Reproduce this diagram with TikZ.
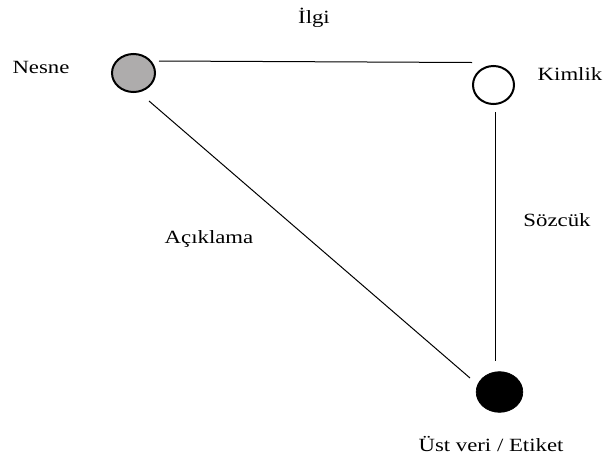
\documentclass[tikz,border=0pt]{standalone}
\usepackage{fontspec}
\setmainfont[FakeStretch=1.22]{Liberation Serif}
\usetikzlibrary{shapes.geometric}
\definecolor{nesnegray}{RGB}{174,172,172}
\begin{document}
\begin{tikzpicture}[x=0.75pt,y=-0.75pt,
  dot/.style={ellipse,draw=black,line width=1.5pt,inner sep=0pt},
  edge/.style={draw=black,line width=0.75pt},
  lbl/.style={anchor=base,inner sep=0pt,font=\fontsize{14}{16}\selectfont}]
\useasboundingbox (0,0) rectangle (604,461);
% circles
\node[dot,fill=nesnegray,minimum width=32.25pt,minimum height=28.5pt] (nesne) at (133.5,73) {};
\node[dot,fill=white,minimum width=30.75pt,minimum height=28.5pt] (kimlik) at (493.5,85) {};
\node[dot,fill=black,line width=0.5pt,minimum width=35pt,minimum height=30.5pt] (ust) at (499.5,392) {};
% connector ends
\coordinate (a1) at (159,61);
\coordinate (a2) at (472,62.5);
\coordinate (b1) at (495.5,112);
\coordinate (b2) at (495.5,361);
\coordinate (c1) at (149,101);
\coordinate (c2) at (470,378);
\draw[edge] (a1) -- (a2);
\draw[edge] (b1) -- (b2);
\draw[edge] (c1) -- (c2);
% labels
\node[lbl] (tilgi) at (314,23.3) {İlgi};
\node[lbl] (tnesne) at (41,73.3) {Nesne};
\node[lbl] (tkimlik) at (570,80) {Kimlik};
\node[lbl] (tsoz) at (557,226.7) {Sözcük};
\node[lbl] (tacik) at (209,243.3) {Açıklama};
\node[lbl] (tust) at (491,451.7) {Üst veri / Etiket};
\end{tikzpicture}
\end{document}
